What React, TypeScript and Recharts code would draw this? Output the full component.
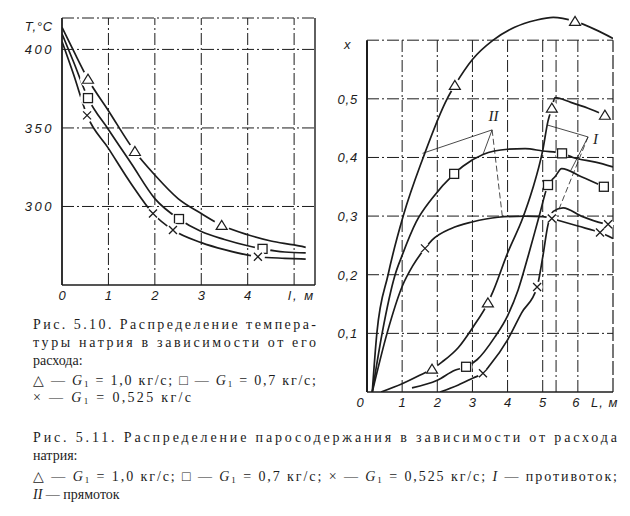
import { ComposedChart, Line, Scatter, XAxis, YAxis, ReferenceLine, ReferenceDot } from "recharts";

const INK = "#1c1c1c";
const DASH = "12 3 2 3";
const SERIF = "'Liberation Serif', 'Times New Roman', serif";
const TICKFONT = "'Liberation Sans', Arial, sans-serif";

// ---------- Рис. 5.10: T, °C vs l, м ----------
const tempXTicks = [0, 1, 2, 3, 4, 5];
const tempYTicks = [300, 350, 400];
const tempXMax = 5.45;
const tempYMin = 250;
const tempYMax = 420;

const tempTri = [
  { x: 0, y: 414 }, { x: 0.25, y: 399 }, { x: 0.56, y: 381 }, { x: 1.0, y: 361 },
  { x: 1.57, y: 335 }, { x: 2.0, y: 320 }, { x: 2.5, y: 305 }, { x: 3.0, y: 295.5 },
  { x: 3.44, y: 288 }, { x: 4.0, y: 282 }, { x: 4.5, y: 278 }, { x: 5.0, y: 275.5 },
  { x: 5.25, y: 274 },
];
const tempSq = [
  { x: 0, y: 410 }, { x: 0.25, y: 392 }, { x: 0.56, y: 369 }, { x: 1.0, y: 349 },
  { x: 1.5, y: 327 }, { x: 2.0, y: 305 }, { x: 2.52, y: 292 }, { x: 3.0, y: 284 },
  { x: 3.5, y: 279 }, { x: 4.0, y: 275 }, { x: 4.32, y: 273 }, { x: 4.8, y: 271 },
  { x: 5.25, y: 270.5 },
];
const tempCross = [
  { x: 0, y: 405 }, { x: 0.25, y: 384 }, { x: 0.54, y: 358 }, { x: 1.0, y: 337 },
  { x: 1.5, y: 314 }, { x: 1.96, y: 295.5 }, { x: 2.39, y: 285 }, { x: 3.0, y: 277 },
  { x: 3.5, y: 272.5 }, { x: 4.22, y: 268 }, { x: 4.8, y: 267 }, { x: 5.25, y: 266.5 },
];
const tempTriMarks = [{ x: 0.56, y: 381 }, { x: 1.57, y: 335 }, { x: 3.44, y: 288 }];
const tempSqMarks = [{ x: 0.56, y: 369 }, { x: 2.52, y: 292 }, { x: 4.32, y: 273 }];
const tempCrossMarks = [{ x: 0.54, y: 358 }, { x: 1.96, y: 295.5 }, { x: 2.39, y: 285 }, { x: 4.22, y: 268 }];

// ---------- Рис. 5.11: x vs L, м ----------
const steamXTicks = [0, 1, 2, 3, 4, 5, 6, 7];
const steamYTicks = [0, 0.1, 0.2, 0.3, 0.4, 0.5, 0.6];
const steamXMax = 7;
const steamYTop = 0.6;
const steamYMax = 0.66;
const steamExtraX = 5.38;

// II — прямоток
const triII = [
  { x: 0.15, y: 0 }, { x: 0.28, y: 0.1 }, { x: 0.6, y: 0.2 }, { x: 1.03, y: 0.3 },
  { x: 1.6, y: 0.4 }, { x: 2.28, y: 0.5 }, { x: 2.5, y: 0.523 }, { x: 3.0, y: 0.567 },
  { x: 3.59, y: 0.6 }, { x: 4.2, y: 0.622 }, { x: 4.8, y: 0.634 }, { x: 5.3, y: 0.639 },
  { x: 5.92, y: 0.632 }, { x: 6.5, y: 0.618 }, { x: 7, y: 0.603 },
];
const sqII = [
  { x: 0.15, y: 0 }, { x: 0.43, y: 0.1 }, { x: 0.8, y: 0.2 }, { x: 1.0, y: 0.233 },
  { x: 1.4, y: 0.29 }, { x: 1.85, y: 0.33 }, { x: 2.48, y: 0.372 }, { x: 2.73, y: 0.385 },
  { x: 3.3, y: 0.405 }, { x: 4.0, y: 0.414 }, { x: 4.5, y: 0.415 }, { x: 5.0, y: 0.411 },
  { x: 5.55, y: 0.407 }, { x: 5.86, y: 0.4 }, { x: 6.5, y: 0.392 }, { x: 7, y: 0.384 },
];
const crossII = [
  { x: 0.15, y: 0 }, { x: 0.57, y: 0.1 }, { x: 1.0, y: 0.18 }, { x: 1.3, y: 0.215 },
  { x: 1.65, y: 0.245 }, { x: 1.85, y: 0.259 }, { x: 2.4, y: 0.279 }, { x: 2.99, y: 0.29 },
  { x: 3.73, y: 0.298 }, { x: 4.5, y: 0.3 }, { x: 5.0, y: 0.299 }, { x: 5.26, y: 0.296 },
  { x: 5.43, y: 0.293 }, { x: 6.0, y: 0.283 }, { x: 6.63, y: 0.272 }, { x: 7, y: 0.262 },
];
// I — противоток
const triI = [
  { x: 0.4, y: 0 }, { x: 1.0, y: 0.014 }, { x: 1.65, y: 0.033 }, { x: 1.85, y: 0.039 },
  { x: 2.13, y: 0.051 }, { x: 2.6, y: 0.076 }, { x: 3.02, y: 0.111 }, { x: 3.44, y: 0.152 },
  { x: 3.59, y: 0.172 }, { x: 4.0, y: 0.237 }, { x: 4.44, y: 0.298 }, { x: 4.7, y: 0.344 },
  { x: 5.0, y: 0.412 }, { x: 5.15, y: 0.462 }, { x: 5.26, y: 0.484 }, { x: 5.35, y: 0.502 },
  { x: 5.8, y: 0.494 }, { x: 6.29, y: 0.484 }, { x: 6.77, y: 0.472 },
];
const sqI = [
  { x: 1.28, y: 0.007 }, { x: 2.0, y: 0.02 }, { x: 2.5, y: 0.037 }, { x: 2.82, y: 0.043 },
  { x: 3.13, y: 0.055 }, { x: 3.64, y: 0.094 }, { x: 4.0, y: 0.13 }, { x: 4.3, y: 0.174 },
  { x: 4.6, y: 0.235 }, { x: 4.9, y: 0.3 }, { x: 5.15, y: 0.353 }, { x: 5.35, y: 0.367 },
  { x: 5.54, y: 0.381 }, { x: 6.1, y: 0.367 }, { x: 6.74, y: 0.35 },
];
const crossI = [
  { x: 2.08, y: 0 }, { x: 2.6, y: 0.012 }, { x: 3.02, y: 0.024 }, { x: 3.3, y: 0.032 },
  { x: 3.5, y: 0.046 }, { x: 4.0, y: 0.089 }, { x: 4.4, y: 0.135 }, { x: 4.84, y: 0.179 },
  { x: 5.0, y: 0.23 }, { x: 5.15, y: 0.285 }, { x: 5.3, y: 0.308 }, { x: 5.58, y: 0.314 },
  { x: 6.1, y: 0.3 }, { x: 6.69, y: 0.288 }, { x: 6.86, y: 0.286 },
];
const steamTriMarks = [
  { x: 2.5, y: 0.523 }, { x: 5.92, y: 0.632 },
  { x: 1.85, y: 0.039 }, { x: 3.44, y: 0.152 }, { x: 5.26, y: 0.484 }, { x: 6.77, y: 0.472 },
];
const steamSqMarks = [
  { x: 2.48, y: 0.372 }, { x: 5.55, y: 0.407 },
  { x: 2.82, y: 0.043 }, { x: 5.15, y: 0.353 }, { x: 6.74, y: 0.35 },
];
const steamCrossMarks = [
  { x: 1.65, y: 0.245 }, { x: 5.26, y: 0.296 }, { x: 6.63, y: 0.272 },
  { x: 3.3, y: 0.032 }, { x: 4.84, y: 0.179 }, { x: 6.86, y: 0.286 },
];
// leader lines to the labels I and II
const labelII = { x: 3.6, y: 0.472 };
const apexII = { x: 3.56, y: 0.447 };
const leadII = [{ x: 1.58, y: 0.407 }, { x: 3.3, y: 0.405 }, { x: 3.85, y: 0.3 }];
const labelI = { x: 6.5, y: 0.432 };
const apexI = { x: 6.29, y: 0.435 };
const leadI = [{ x: 5.15, y: 0.455 }, { x: 5.8, y: 0.378 }, { x: 5.45, y: 0.31 }];

type Kind = "tri" | "sq" | "cross";

function Marker({ cx, cy, kind, halo }: { cx: number; cy: number; kind: Kind; halo: number }) {
  return (
    <g>
      <circle cx={cx} cy={cy} r={halo} fill="#fff" />
      {kind === "tri" && (
        <path d={`M${cx - 5.5},${cy + 4} L${cx},${cy - 5} L${cx + 5.5},${cy + 4} Z`} fill="none" stroke={INK} strokeWidth={1.2} />
      )}
      {kind === "sq" && (
        <rect x={cx - 4.5} y={cy - 4.5} width={9} height={9} fill="none" stroke={INK} strokeWidth={1.3} />
      )}
      {kind === "cross" && (
        <path d={`M${cx - 4},${cy - 4} L${cx + 4},${cy + 4} M${cx + 4},${cy - 4} L${cx - 4},${cy + 4}`} stroke={INK} strokeWidth={1.3} />
      )}
    </g>
  );
}

const markShape = (kind: Kind, halo: number) => (p: any) => <Marker cx={p.cx} cy={p.cy} kind={kind} halo={halo} />;

const tickText = {
  fontFamily: TICKFONT,
  fontStyle: "italic" as const,
  fontSize: 13,
  fill: INK,
  letterSpacing: 2.5,
};

function TempYTick({ x, y, payload }: any) {
  if (payload.value === tempYMax) {
    return (
      <text x={x - 1} y={y + 13} textAnchor="end" {...tickText} letterSpacing={0.8}>
        T,°C
      </text>
    );
  }
  return (
    <text x={x} y={y + 5} textAnchor="end" {...tickText}>
      {payload.value}
    </text>
  );
}

function TempXTick({ x, y, payload }: any) {
  if (payload.value === 5) {
    return (
      <text x={x - 6} y={y + 7} {...tickText} letterSpacing={2}>
        l, м
      </text>
    );
  }
  return (
    <text x={x} y={y + 7} textAnchor="middle" {...tickText} letterSpacing={0}>
      {payload.value}
    </text>
  );
}

function SteamYTick({ x, y, payload }: any) {
  if (payload.value === 0) return null;
  if (payload.value === steamYTop) {
    return (
      <text x={x - 6} y={y + 9} textAnchor="end" {...tickText}>
        x
      </text>
    );
  }
  return (
    <text x={x - 1} y={y + 5} textAnchor="end" {...tickText} letterSpacing={0.8}>
      {String(payload.value).replace(".", ",")}
    </text>
  );
}

function SteamXTick({ x, y, payload }: any) {
  if (payload.value === steamXMax) {
    return (
      <text x={x - 22} y={y + 7} {...tickText} letterSpacing={1}>
        L, м
      </text>
    );
  }
  const dx = payload.value === 0 ? -7 : payload.value === 6 ? -2 : 0;
  return (
    <text x={x + dx} y={y + 7} textAnchor="middle" {...tickText} letterSpacing={0}>
      {payload.value}
    </text>
  );
}

const curve = (data: { x: number; y: number }[], key: string, width = 1.7) => (
  <Line
    key={key}
    data={data}
    dataKey="y"
    type="monotone"
    dot={false}
    activeDot={false}
    stroke={INK}
    strokeWidth={width}
    isAnimationActive={false}
  />
);

function G1() {
  return (
    <>
      <tspan fontStyle="italic">G</tspan>
      <tspan fontSize="9" dy="2">1</tspan>
      <tspan dy="-2">{" "}</tspan>
    </>
  );
}

function Captions() {
  const t = { fontFamily: SERIF, fontSize: 14, fill: INK };
  return (
    <svg width={630} height={516} style={{ position: "absolute", left: 0, top: 0, pointerEvents: "none" }}>
      <text x={33} y={329} textLength={283} lengthAdjust="spacing" {...t}>Рис. 5.10. Распределение темпера-</text>
      <text x={33} y={347} textLength={283} lengthAdjust="spacing" {...t}>туры натрия в зависимости от его</text>
      <text x={33} y={365} {...t}>расхода:</text>
      <text x={33} y={385} textLength={283} lengthAdjust="spacing" {...t}>
        △ — <G1 />= 1,0 кг/с; □ — <G1 />= 0,7 кг/с;
      </text>
      <text x={33} y={402} textLength={158} lengthAdjust="spacing" {...t}>
        × — <G1 />= 0,525 кг/с
      </text>

      <text x={33} y={442} textLength={584} lengthAdjust="spacing" {...t}>
        Рис. 5.11. Распределение паросодержания в зависимости от расхода
      </text>
      <text x={33} y={460} {...t}>натрия:</text>
      <text x={33} y={481} textLength={584} lengthAdjust="spacing" {...t}>
        △ — <G1 />= 1,0 кг/с; □ — <G1 />= 0,7 кг/с; × — <G1 />= 0,525 кг/с; <tspan fontStyle="italic">I</tspan> — противоток;
      </text>
      <text x={33} y={499} {...t}>
        <tspan fontStyle="italic">II</tspan> — прямоток
      </text>
    </svg>
  );
}

export default function App() {
  return (
    <div style={{ position: "absolute", left: 0, top: 0, width: 630, height: 516, background: "#fff" }}>
      <div style={{ position: "absolute", left: 0, top: 0 }}>
        <ComposedChart width={330} height={310} margin={{ top: 18, right: 15, bottom: 0, left: 22 }}>
          <XAxis
            type="number"
            dataKey="x"
            domain={[0, tempXMax]}
            ticks={tempXTicks}
            allowDataOverflow
            height={25}
            tickLine={false}
            axisLine={{ stroke: INK, strokeWidth: 1.5 }}
            tick={<TempXTick />}
          />
          <YAxis
            type="number"
            dataKey="y"
            domain={[tempYMin, tempYMax]}
            ticks={[...tempYTicks, tempYMax]}
            allowDataOverflow
            width={40}
            tickLine={false}
            axisLine={{ stroke: INK, strokeWidth: 1.8 }}
            tick={<TempYTick />}
          />
          {tempXTicks.slice(1).map((v) => (
            <ReferenceLine key={`tv${v}`} x={v} stroke={INK} strokeWidth={1} strokeDasharray={DASH} />
          ))}
          {tempYTicks.map((v) => (
            <ReferenceLine key={`th${v}`} y={v} stroke={INK} strokeWidth={1} strokeDasharray={DASH} />
          ))}
          <ReferenceLine y={tempYMax} stroke={INK} strokeWidth={1} strokeDasharray={DASH} />
          <ReferenceLine x={tempXMax} stroke={INK} strokeWidth={1.4} />
          {curve(tempTri, "tt")}
          {curve(tempSq, "ts")}
          {curve(tempCross, "tc")}
          <Scatter data={tempTriMarks} dataKey="y" shape={markShape("tri", 8)} isAnimationActive={false} />
          <Scatter data={tempSqMarks} dataKey="y" shape={markShape("sq", 8)} isAnimationActive={false} />
          <Scatter data={tempCrossMarks} dataKey="y" shape={markShape("cross", 7)} isAnimationActive={false} />
        </ComposedChart>
      </div>

      <div style={{ position: "absolute", left: 320, top: 0 }}>
        <ComposedChart width={310} height={420} margin={{ top: 5, right: 17, bottom: 0, left: 7 }}>
          <XAxis
            type="number"
            dataKey="x"
            domain={[0, steamXMax]}
            ticks={steamXTicks}
            allowDataOverflow
            height={28}
            tickLine={false}
            axisLine={{ stroke: INK, strokeWidth: 1.5 }}
            tick={<SteamXTick />}
          />
          <YAxis
            type="number"
            dataKey="y"
            domain={[0, steamYMax]}
            ticks={steamYTicks}
            allowDataOverflow
            width={40}
            tickLine={false}
            axisLine={false}
            tick={<SteamYTick />}
          />
          {steamXTicks.slice(1, -1).map((v) => (
            <ReferenceLine
              key={`sv${v}`}
              segment={[{ x: v, y: 0 }, { x: v, y: steamYTop }]}
              stroke={INK}
              strokeWidth={1}
              strokeDasharray={DASH}
            />
          ))}
          <ReferenceLine
            segment={[{ x: steamExtraX, y: 0 }, { x: steamExtraX, y: steamYTop }]}
            stroke={INK}
            strokeWidth={1}
            strokeDasharray={DASH}
          />
          <ReferenceLine
            segment={[{ x: steamXMax, y: 0 }, { x: steamXMax, y: steamYTop }]}
            stroke={INK}
            strokeWidth={1.2}
            strokeDasharray="14 3"
          />
          {steamYTicks.slice(1).map((v) => (
            <ReferenceLine
              key={`sh${v}`}
              segment={[{ x: 0, y: v }, { x: steamXMax, y: v }]}
              stroke={INK}
              strokeWidth={1}
              strokeDasharray={DASH}
            />
          ))}
          <ReferenceLine
            segment={[{ x: 0, y: 0 }, { x: 0, y: steamYTop }]}
            stroke={INK}
            strokeWidth={2}
          />
          {leadII.map((p, i) => (
            <ReferenceLine
              key={`l2${i}`}
              segment={[apexII, p]}
              stroke={INK}
              strokeWidth={0.8}
              strokeDasharray={i === 2 ? "6 3" : undefined}
            />
          ))}
          {leadI.map((p, i) => (
            <ReferenceLine
              key={`l1${i}`}
              segment={[apexI, p]}
              stroke={INK}
              strokeWidth={0.8}
              strokeDasharray={i === 2 ? "6 3" : undefined}
            />
          ))}
          {curve(triII, "t2")}
          {curve(sqII, "s2")}
          {curve(crossII, "c2")}
          {curve(triI, "t1")}
          {curve(sqI, "s1")}
          {curve(crossI, "c1")}
          <Scatter data={steamTriMarks} dataKey="y" shape={markShape("tri", 6.5)} isAnimationActive={false} />
          <Scatter data={steamSqMarks} dataKey="y" shape={markShape("sq", 6.5)} isAnimationActive={false} />
          <Scatter data={steamCrossMarks} dataKey="y" shape={markShape("cross", 5.5)} isAnimationActive={false} />
          <ReferenceDot
            x={labelII.x}
            y={labelII.y}
            r={0}
            stroke="none"
            label={{ value: "II", position: "center", fontFamily: SERIF, fontStyle: "italic", fontSize: 15, fill: INK }}
          />
          <ReferenceDot
            x={labelI.x}
            y={labelI.y}
            r={0}
            stroke="none"
            label={{ value: "I", position: "center", fontFamily: SERIF, fontStyle: "italic", fontSize: 15, fill: INK }}
          />
        </ComposedChart>
      </div>

      <Captions />
    </div>
  );
}
